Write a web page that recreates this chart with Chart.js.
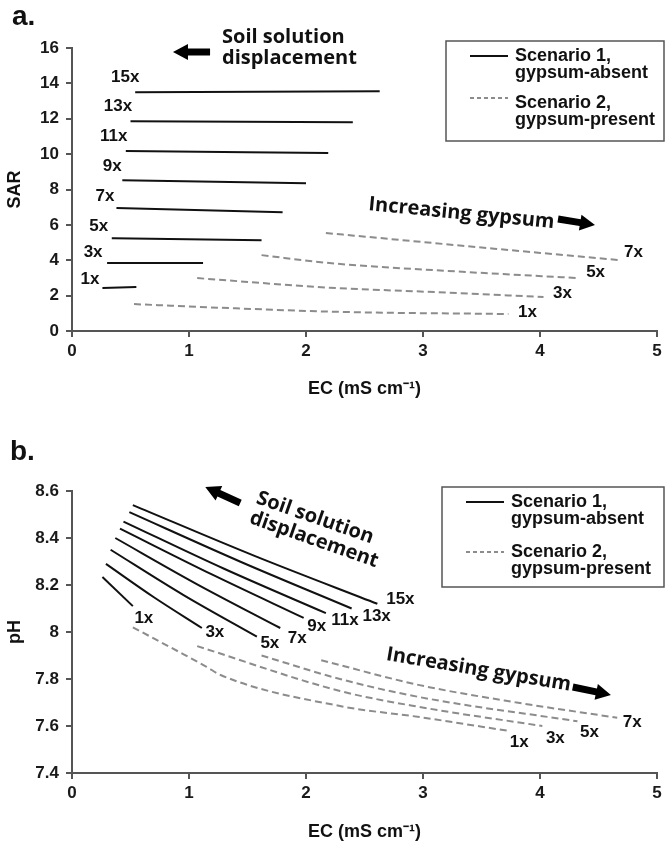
<!DOCTYPE html>
<html>
<head>
<meta charset="utf-8">
<script src="https://cdn.jsdelivr.net/npm/chart.js@4.4.1/dist/chart.umd.min.js"></script>
<style>
  html, body { margin: 0; padding: 0; background: #fff; }
  #wrap { position: relative; width: 667px; height: 843px; }
  canvas { position: absolute; left: 0; }
</style>
</head>
<body>
<div id="wrap">
  <canvas id="chartA" width="667" height="410" style="top:0"></canvas>
  <canvas id="chartB" width="667" height="433" style="top:410px"></canvas>
</div>
<script>
// axis ticks
const ecTicks = [0, 1, 2, 3, 4, 5];
const sarTicks = [0, 2, 4, 6, 8, 10, 12, 14, 16];
const phTicks = [7.4, 7.6, 7.8, 8, 8.2, 8.4, 8.6];

const absentLevels = ['1x', '3x', '5x', '7x', '9x', '11x', '13x', '15x'];
const presentLevels = ['1x', '3x', '5x', '7x'];
const scenarioNames = [['Scenario 1,', 'gypsum-absent'], ['Scenario 2,', 'gypsum-present']];

// a. SAR vs EC
const sarAbsentEC = [[0.26, 0.55], [0.30, 1.12], [0.34, 1.62], [0.38, 1.80], [0.43, 2.00], [0.46, 2.19], [0.50, 2.40], [0.54, 2.63]];
const sarAbsentSAR = [[2.43, 2.49], [3.84, 3.84], [5.25, 5.13], [6.95, 6.72], [8.53, 8.36], [10.17, 10.06], [11.86, 11.80], [13.50, 13.55]];
const sarPresentEC = [[0.53, 1.40, 2.29, 3.73], [1.07, 2.20, 3.10, 4.03], [1.62, 2.20, 3.20, 4.33], [2.17, 3.55, 4.67]];
const sarPresentSAR = [[1.52, 1.28, 1.08, 0.96], [2.99, 2.45, 2.20, 1.92], [4.29, 3.84, 3.40, 2.99], [5.54, 4.69, 4.01]];

// b. pH vs EC
const phAbsentEC = [[0.26, 0.52], [0.29, 0.70, 1.11], [0.33, 0.95, 1.58], [0.37, 1.07, 1.78], [0.41, 1.20, 1.98], [0.44, 1.30, 2.17], [0.49, 1.44, 2.39], [0.52, 1.56, 2.61]];
const phAbsentPH = [[8.234, 8.11], [8.29, 8.148, 8.017], [8.35, 8.158, 7.98], [8.40, 8.203, 8.017], [8.44, 8.244, 8.06], [8.47, 8.269, 8.08], [8.51, 8.299, 8.10], [8.54, 8.324, 8.12]];
const phPresentEC = [[0.52, 0.95, 1.15, 1.27, 2.29, 2.97, 3.72], [1.07, 2.29, 2.97, 4.02], [1.62, 2.29, 2.97, 4.32], [2.13, 2.97, 3.80, 4.66]];
const phPresentPH = [[8.02, 7.906, 7.852, 7.817, 7.685, 7.638, 7.58], [7.94, 7.749, 7.681, 7.60], [7.90, 7.80, 7.723, 7.62], [7.88, 7.774, 7.70, 7.635]];

const ARIAL = "'Liberation Sans', Arial, sans-serif";
const AXIS = '#555';

function lineSet(xs, ys, dashed) {
    return {
        data: xs.map((x, i) => ({ x: x, y: ys[i] })),
        showLine: true,
        borderColor: dashed ? '#8c8c8c' : '#111',
        borderWidth: 2,
        borderDash: dashed ? [7, 4] : [],
        pointRadius: 0,
        cubicInterpolationMode: 'monotone'
    };
}

function drawArrow(ctx, x1, y1, x2, y2) {
    const len = Math.hypot(x2 - x1, y2 - y1);
    ctx.save();
    ctx.translate(x1, y1);
    ctx.rotate(Math.atan2(y2 - y1, x2 - x1));
    ctx.beginPath();
    ctx.moveTo(0, -3.5);
    ctx.lineTo(len - 15, -3.5);
    ctx.lineTo(len - 15, -8);
    ctx.lineTo(len, 0);
    ctx.lineTo(len - 15, 8);
    ctx.lineTo(len - 15, 3.5);
    ctx.lineTo(0, 3.5);
    ctx.closePath();
    ctx.fillStyle = '#000';
    ctx.fill();
    ctx.restore();
}

// "1x", "3x" ... next to the line ends
const seriesLabels = {
    id: 'seriesLabels',
    afterDatasetsDraw(chart, args, o) {
        const { ctx, scales: { x, y } } = chart;
        ctx.save();
        ctx.font = 'bold 17px ' + ARIAL;
        ctx.fillStyle = '#111';
        ctx.textAlign = 'center';
        ctx.textBaseline = 'middle';
        o.items.forEach(it => {
            const pts = chart.data.datasets[it.ds].data;
            const p = it.at === 'start' ? pts[0] : pts[pts.length - 1];
            ctx.fillText(it.text, x.getPixelForValue(p.x) + it.dx, y.getPixelForValue(p.y) + it.dy);
        });
        ctx.restore();
    }
};

// free text, arrows and the panel letter
const notes = {
    id: 'notes',
    afterDraw(chart, args, o) {
        const { ctx, scales: { x, y } } = chart;
        ctx.save();
        ctx.fillStyle = '#111';
        ctx.font = 'bold 28px ' + ARIAL;
        ctx.textBaseline = 'alphabetic';
        ctx.fillText(o.letter.text, o.letter.x, o.letter.y);
        o.texts.forEach(t => {
            ctx.save();
            ctx.translate(x.getPixelForValue(t.at[0]), y.getPixelForValue(t.at[1]));
            ctx.rotate(t.rot * Math.PI / 180);
            ctx.font = "bold 20px 'Open Sans', sans-serif";
            ctx.textAlign = 'left';
            t.lines.forEach((line, i) => ctx.fillText(line, 0, i * 21));
            ctx.restore();
        });
        o.arrows.forEach(a => drawArrow(ctx,
            x.getPixelForValue(a.from[0]), y.getPixelForValue(a.from[1]),
            x.getPixelForValue(a.to[0]), y.getPixelForValue(a.to[1])));
        ctx.restore();
    }
};

// boxed legend with two-line entries
const boxLegend = {
    id: 'boxLegend',
    afterDraw(chart, args, o) {
        const ctx = chart.ctx;
        ctx.save();
        ctx.strokeStyle = AXIS;
        ctx.lineWidth = 1.5;
        ctx.strokeRect(o.left, o.top, o.width, o.height);
        o.items.forEach((it, i) => {
            const ly = o.top + it.lineY;
            ctx.beginPath();
            ctx.setLineDash(it.dash);
            ctx.strokeStyle = it.color;
            ctx.lineWidth = 2;
            ctx.moveTo(o.left + 24, ly);
            ctx.lineTo(o.left + 62, ly);
            ctx.stroke();
            ctx.setLineDash([]);
            ctx.font = 'bold 18px ' + ARIAL;
            ctx.fillStyle = '#111';
            ctx.textBaseline = 'middle';
            scenarioNames[i].forEach((t, j) => ctx.fillText(t, o.left + 69, o.top + it.textY + j * 17));
        });
        ctx.restore();
    }
};

function axisStyle() {
    return {
        border: { color: AXIS, width: 2 },
        grid: { drawOnChartArea: false, drawTicks: true, tickLength: 6, color: AXIS, lineWidth: 2 },
        ticks: {
            color: '#1a1a1a',
            font: { family: ARIAL, size: 17, weight: 'bold' },
            callback: v => String(+v.toFixed(1))
        }
    };
}

function makePanel(id, p) {
    const datasets = [];
    p.absentEC.forEach((xs, i) => datasets.push(lineSet(xs, p.absentY[i], false)));
    p.presentEC.forEach((xs, i) => datasets.push(lineSet(xs, p.presentY[i], true)));

    const labelItems = [];
    absentLevels.forEach((t, i) => labelItems.push({ ds: i, text: t, at: p.absentAt, dx: p.absentOff[i][0], dy: p.absentOff[i][1] }));
    presentLevels.forEach((t, i) => labelItems.push({ ds: absentLevels.length + i, text: t, at: 'end', dx: p.presentOff[i][0], dy: p.presentOff[i][1] }));

    const xs = axisStyle();
    const ys = axisStyle();
    xs.ticks.padding = 4;
    ys.ticks.padding = 7;

    return new Chart(document.getElementById(id), {
        type: 'scatter',
        data: { datasets },
        plugins: [seriesLabels, notes, boxLegend],
        options: {
            responsive: false,
            animation: false,
            layout: { padding: { top: p.top, right: 10, left: 0, bottom: 0 } },
            plugins: {
                legend: { display: false },
                tooltip: { enabled: false },
                seriesLabels: { items: labelItems },
                notes: p.notes,
                boxLegend: p.legend
            },
            scales: {
                x: Object.assign(xs, {
                    type: 'linear', min: 0, max: 5,
                    afterBuildTicks: s => { s.ticks = ecTicks.map(v => ({ value: v })); },
                    afterFit: s => { s.height = p.xHeight; },
                    title: { display: true, text: 'EC (mS cm⁻¹)', color: '#111',
                        font: { family: ARIAL, size: 18, weight: 'bold' }, padding: { top: 0, bottom: p.xTitlePad } }
                }),
                y: Object.assign(ys, {
                    type: 'linear', min: p.yTicks[0], max: p.yTicks[p.yTicks.length - 1],
                    afterBuildTicks: s => { s.ticks = p.yTicks.map(v => ({ value: v })); },
                    afterFit: s => { s.width = 72; },
                    title: { display: true, text: p.yTitle, color: '#111',
                        font: { family: ARIAL, size: 18, weight: 'bold' }, padding: { top: 4, bottom: 0 } }
                })
            }
        }
    });
}

makePanel('chartA', {
    top: 48, xHeight: 79, xTitlePad: 10,
    yTicks: sarTicks, yTitle: 'SAR',
    absentEC: sarAbsentEC, absentY: sarAbsentSAR,
    presentEC: sarPresentEC, presentY: sarPresentSAR,
    absentAt: 'start',
    absentOff: [[-12.5, -9], [-14, -11], [-13, -12], [-11.5, -12], [-10, -14], [-12, -15], [-12.5, -15], [-10, -15]],
    presentOff: [[19, -2], [19, -4], [17, -6], [15, -8]],
    notes: {
        letter: { text: 'a.', x: 12, y: 25 },
        texts: [
            { lines: ['Soil solution', 'displacement'], at: [1.282, 16.28], rot: 0 },
            { lines: ['Increasing gypsum'], at: [2.53, 6.84], rot: 5.6 }
        ],
        arrows: [
            { from: [1.18, 15.77], to: [0.863, 15.77] },
            { from: [4.154, 6.33], to: [4.47, 5.99] }
        ]
    },
    legend: {
        left: 446, top: 41, width: 218, height: 100,
        items: [
            { color: '#111', dash: [], lineY: 15, textY: 15 },
            { color: '#8c8c8c', dash: [4, 3], lineY: 57, textY: 62 }
        ]
    }
});

makePanel('chartB', {
    top: 81, xHeight: 70, xTitlePad: 0,
    yTicks: phTicks, yTitle: 'pH',
    absentEC: phAbsentEC, absentY: phAbsentPH,
    presentEC: phPresentEC, presentY: phPresentPH,
    absentAt: 'end',
    absentOff: [[11, 12], [13, 4], [13, 7], [17, 10], [13, 8], [19, 7], [25, 8], [23, -4]],
    presentOff: [[12, 12], [13, 12], [12, 11], [15, 5]],
    notes: {
        letter: { text: 'b.', x: 10, y: 50 },
        texts: [
            { lines: ['Soil solution', 'displacement'], at: [1.567, 8.549], rot: 19.3 },
            { lines: ['Increasing gypsum'], at: [2.68, 7.881], rot: 9.5 }
        ],
        arrows: [
            { from: [1.438, 8.549], to: [1.139, 8.617] },
            { from: [4.28, 7.766], to: [4.606, 7.732] }
        ]
    },
    legend: {
        left: 442, top: 77, width: 222, height: 100,
        items: [
            { color: '#111', dash: [], lineY: 15, textY: 15 },
            { color: '#8c8c8c', dash: [4, 3], lineY: 65, textY: 65 }
        ]
    }
});
</script>
</body>
</html>
